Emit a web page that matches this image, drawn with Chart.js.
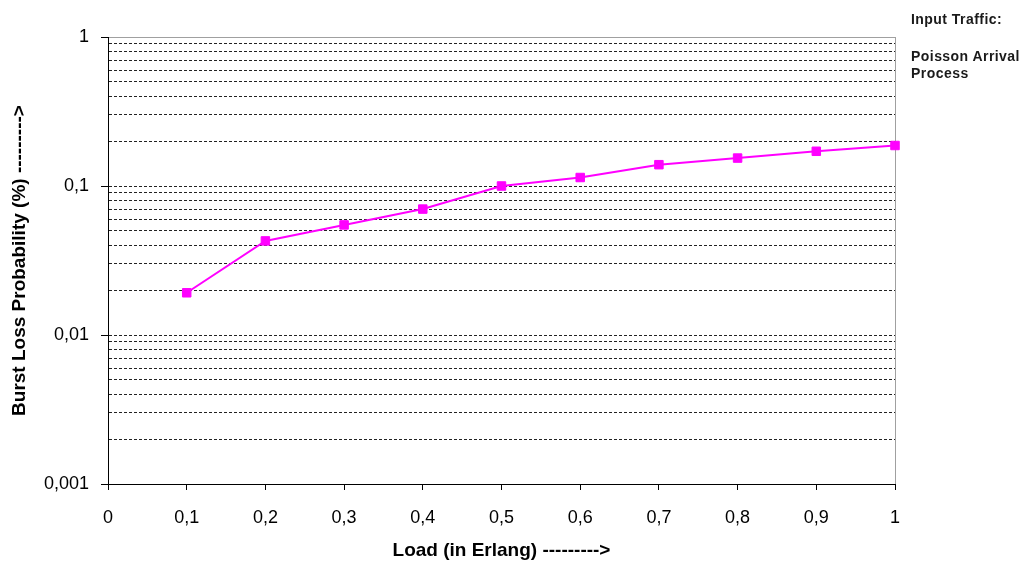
<!DOCTYPE html>
<html>
<head>
<meta charset="utf-8">
<script src="https://cdn.jsdelivr.net/npm/chart.js@4/dist/chart.umd.min.js"></script>
<style>
html,body{margin:0;padding:0;background:#fff;}
#wrap{position:relative;width:1030px;height:562px;}
canvas{position:absolute;left:0;top:0;}
.note{position:absolute;font-family:"Liberation Sans",Arial,sans-serif;font-weight:bold;font-size:14px;color:#1a1a1a;line-height:17px;letter-spacing:0.45px;}
</style>
</head>
<body>
<div id="wrap">
<canvas id="c" width="1030" height="562"></canvas>
<div class="note" style="left:911px;top:11px;">Input Traffic:</div>
<div class="note" style="left:911px;top:48px;">Poisson Arrival<br>Process</div>
</div>
<script>
const loads = [0.1, 0.2, 0.3, 0.4, 0.5, 0.6, 0.7, 0.8, 0.9, 1.0];
const burstLoss = [0.0192, 0.0428, 0.0548, 0.070, 0.100, 0.114, 0.139, 0.154, 0.171, 0.187];
const xTickLabels = ['0','0,1','0,2','0,3','0,4','0,5','0,6','0,7','0,8','0,9','1'];
const yDecades = [0.001, 0.01, 0.1, 1];
const yDecadeLabels = ['0,001','0,01','0,1','1'];

const isDecade = v => yDecades.some(d => Math.abs(v - d) / d < 1e-6);

const yTickValues = [];
for (let e = -3; e <= 0; e++) {
  for (let m = 1; m <= 9; m++) {
    const v = m * Math.pow(10, e);
    if (v <= 1 + 1e-9) yTickValues.push(+v.toPrecision(3));
  }
}

const fam = '"Liberation Sans", Arial, sans-serif';
const tickFont = {family: fam, size: 18};
const titleFont = {family: fam, size: 19, weight: 'bold'};

new Chart(document.getElementById('c'), {
  type: 'line',
  data: {
    datasets: [{
      data: loads.map((x, i) => ({x: x, y: burstLoss[i]})),
      borderColor: '#ff00ff',
      backgroundColor: '#ff00ff',
      borderWidth: 2,
      pointStyle: 'rect',
      pointRadius: 6,
      pointBorderWidth: 1,
      pointBorderColor: '#ff00ff',
      pointBackgroundColor: '#ff00ff',
      tension: 0,
      clip: false
    }]
  },
  options: {
    responsive: false,
    animation: false,
    devicePixelRatio: 1,
    layout: {padding: {left: 0, right: 135, top: 37, bottom: 0}},
    plugins: {legend: {display: false}, tooltip: {enabled: false}},
    scales: {
      x: {
        type: 'linear',
        min: 0, max: 1,
        afterBuildTicks: s => { s.ticks = xTickLabels.map((_, i) => ({value: i / 10})); },
        afterFit: s => { s.height = 78; },
        ticks: {
          color: '#000', font: tickFont, padding: 17, maxRotation: 0, autoSkip: false,
          callback: (v, i) => xTickLabels[i]
        },
        grid: {
          drawOnChartArea: true,
          color: ctx => (ctx.tick && Math.abs(ctx.tick.value - 1) < 1e-9) ? '#a0a0a0' : 'rgba(0,0,0,0)',
          tickColor: '#000',
          tickLength: 6,
          lineWidth: 1
        },
        border: {display: true, color: '#000', width: 1},
        title: {
          display: true, text: 'Load (in Erlang) --------->', color: '#000',
          font: titleFont, padding: {top: 6, bottom: 0}
        }
      },
      y: {
        type: 'logarithmic',
        min: 0.001, max: 1,
        afterBuildTicks: s => { s.ticks = yTickValues.map(v => ({value: v})); },
        afterFit: s => { s.width = 108; },
        ticks: {
          color: '#000', font: tickFont, padding: 12, autoSkip: false,
          callback: v => {
            const i = yDecades.findIndex(d => Math.abs(v - d) / d < 1e-6);
            return i >= 0 ? yDecadeLabels[i] : '';
          }
        },
        grid: {
          color: ctx => {
            if (!ctx.tick) return '#000';
            const v = ctx.tick.value;
            if (Math.abs(v - 1) < 1e-9) return '#a0a0a0';
            if (Math.abs(v - 0.001) < 1e-9) return 'rgba(0,0,0,0)';
            return '#222';
          },
          tickColor: ctx => (ctx.tick && isDecade(ctx.tick.value)) ? '#000' : 'rgba(0,0,0,0)',
          tickLength: 7,
          lineWidth: 1
        },
        border: {
          display: true, color: '#000', width: 1,
          dash: ctx => (ctx.tick && Math.abs(ctx.tick.value - 1) > 1e-9) ? [3, 2] : []
        },
        title: {
          display: true, text: 'Burst Loss Probability (%) --------->', color: '#000',
          font: titleFont, padding: {top: 8, bottom: 0}
        }
      }
    }
  }
});
</script>
</body>
</html>
